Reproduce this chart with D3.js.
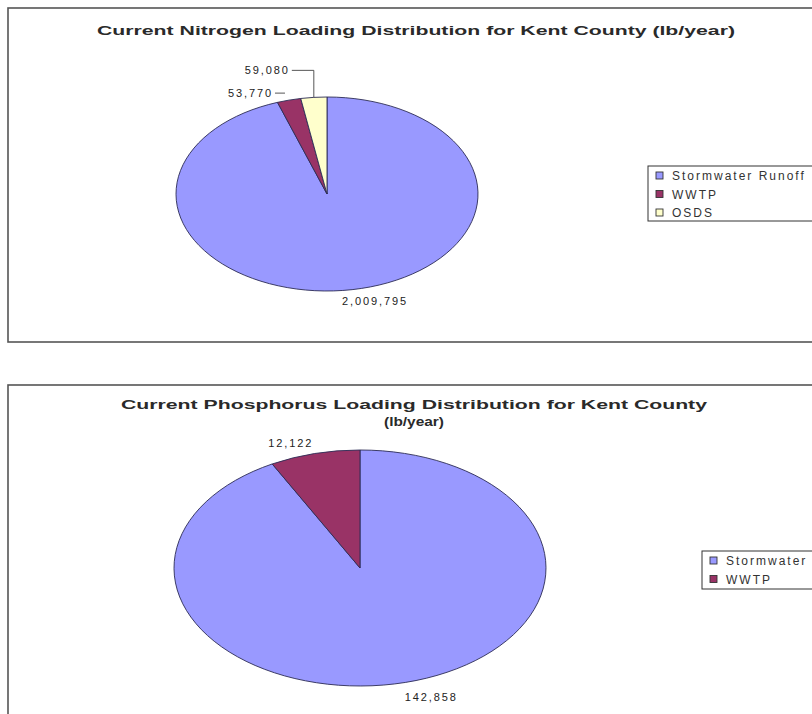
<!DOCTYPE html>
<html>
<head>
<meta charset="utf-8">
<script src="https://cdn.jsdelivr.net/npm/d3@7"></script>
<style>
  body { margin: 0; background: #fff; }
  svg { display: block; font-family: Arial, "Liberation Sans", sans-serif; }
</style>
</head>
<body>
<svg id="chart" width="812" height="714"></svg>
<script>
// data
const nitrogenCategories = ["Stormwater Runoff", "WWTP", "OSDS"];
const nitrogenValues = [2009795, 53770, 59080];
const phosphorusLegend = ["Stormwater", "WWTP"];
const phosphorusValues = [142858, 12122];
const colors = ["#9999ff", "#993366", "#ffffcc"];

const svg = d3.select("#chart");
const fmt = d3.format(",");

const drawPanel = (opts) => {
    const g = svg.append("g");

    // panel frame (runs off the right edge like the screenshot)
    g.append("rect")
        .attr("x", opts.frame[0]).attr("y", opts.frame[1])
        .attr("width", 900).attr("height", opts.frame[2])
        .attr("fill", "#fff")
        .attr("stroke", "#555").attr("stroke-width", 1.6);

    opts.title.forEach((t, i) => {
        g.append("text")
            .attr("x", opts.titleX).attr("y", opts.titleY + i * 17)
            .attr("text-anchor", "middle")
            .attr("font-size", 13.5).attr("font-weight", "bold")
            .attr("fill", "#2a2a2a")
            .attr("textLength", t.len).attr("lengthAdjust", "spacingAndGlyphs")
            .text(t.text);
    });

    const pie = d3.pie().sort(null).value(d => d);
    const arcs = pie(opts.values);
    const sy = opts.ry / opts.rx;
    const arc = d3.arc().innerRadius(0).outerRadius(opts.rx);

    const pg = g.append("g")
        .attr("transform", `translate(${opts.cx},${opts.cy}) scale(1,${sy})`);
    pg.selectAll("path")
        .data(arcs)
        .enter()
        .append("path")
        .attr("d", arc)
        .attr("fill", (d, i) => colors[i])
        .attr("stroke", "#2b2b55")
        .attr("stroke-width", 0.9)
        .attr("vector-effect", "non-scaling-stroke");

    // point on the ellipse rim for an arc's middle angle
    const rim = (d, k) => {
        const a = (d.startAngle + d.endAngle) / 2;
        return [opts.cx + opts.rx * k * Math.sin(a), opts.cy - opts.ry * k * Math.cos(a)];
    };

    arcs.forEach((d, i) => {
        const lab = opts.labels[i];
        const p = rim(d, 1);
        const tx = p[0] + lab.dx, ty = p[1] + lab.dy;
        g.append("text")
            .attr("x", tx).attr("y", ty)
            .attr("text-anchor", lab.anchor)
            .attr("font-size", 11)
            .attr("letter-spacing", 1.9)
            .attr("fill", "#222")
            .text(fmt(d.value));
        if (lab.leader) {
            const pts = lab.leader === "dash"
                ? [[tx + 2, ty - 4], [tx + 12, ty - 4]]
                : [[tx + 2, ty - 4], [p[0], ty - 4], [p[0], p[1]]];
            g.append("path")
                .attr("d", d3.line()(pts))
                .attr("fill", "none")
                .attr("stroke", "#444").attr("stroke-width", 0.9);
        }
    });

    // legend
    const lg = g.append("g").attr("transform", `translate(${opts.legend[0]},${opts.legend[1]})`);
    lg.append("rect")
        .attr("x", 0).attr("y", 0)
        .attr("width", 300).attr("height", opts.legend[2])
        .attr("fill", "#fff").attr("stroke", "#333").attr("stroke-width", 1);
    opts.legendNames.forEach((name, i) => {
        const row = lg.append("g").attr("transform", `translate(8,${6 + i * 18.5})`);
        row.append("rect")
            .attr("width", 7).attr("height", 7)
            .attr("fill", colors[i]).attr("stroke", "#333").attr("stroke-width", 0.9);
        row.append("text")
            .attr("x", 16).attr("y", 8)
            .attr("font-size", 12)
            .attr("letter-spacing", 2)
            .attr("fill", "#333")
            .text(name);
    });
};

drawPanel({
    frame: [8, 8, 334],
    title: [{ text: "Current Nitrogen Loading Distribution for Kent County (lb/year)", len: 638 }],
    titleX: 416, titleY: 35,
    values: nitrogenValues,
    cx: 327, cy: 194, rx: 151, ry: 97,
    labels: [
        { dx: 23, dy: 15, anchor: "middle" },
        { dx: -16, dy: -3, anchor: "end", leader: "dash" },
        { dx: -24, dy: -23, anchor: "end", leader: "elbow" }
    ],
    legend: [648, 166, 55],
    legendNames: nitrogenCategories
});

drawPanel({
    frame: [8, 385, 400],
    title: [
        { text: "Current Phosphorus Loading Distribution for Kent County", len: 586 },
        { text: "(lb/year)", len: 60 }
    ],
    titleX: 414, titleY: 409,
    values: phosphorusValues,
    cx: 360, cy: 568, rx: 186, ry: 118,
    labels: [
        { dx: 26, dy: 19, anchor: "middle" },
        { dx: -24, dy: -7, anchor: "middle" }
    ],
    legend: [702, 551, 38],
    legendNames: phosphorusLegend
});
</script>
</body>
</html>
